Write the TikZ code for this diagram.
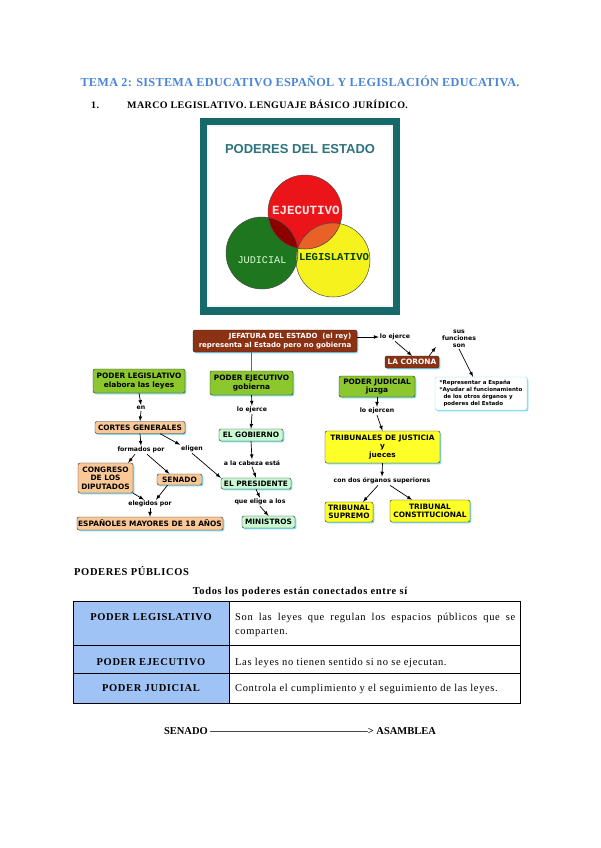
\documentclass[tikz,border=0pt]{standalone}
\usepackage{fontspec}
\setmainfont{Liberation Serif}
\newfontfamily\titlefont[LetterSpace=2.5]{Liberation Serif}
\newfontfamily\headfont[LetterSpace=4]{Liberation Serif}
\newfontfamily\bodyfont[LetterSpace=6]{Liberation Serif}
\newfontfamily\mapfont{DejaVu Sans}
\newfontfamily\logofont{Liberation Sans}
\newfontfamily\circfont{Liberation Mono}
\usepackage{tikz}
\usetikzlibrary{calc,shadows}
\definecolor{titleblue}{RGB}{74,134,214}
\definecolor{frameteal}{RGB}{22,105,105}
\definecolor{logoteal}{RGB}{45,115,125}
\definecolor{circred}{RGB}{235,20,25}
\definecolor{circgreen}{RGB}{30,118,30}
\definecolor{circyellow}{RGB}{245,242,30}
\definecolor{redgreen}{RGB}{140,0,0}
\definecolor{redyellow}{RGB}{232,98,40}
\definecolor{greenyellow}{RGB}{130,212,60}
\definecolor{allthree}{RGB}{70,95,120}
\definecolor{crownbrown}{RGB}{140,50,20}
\definecolor{powergreen}{RGB}{140,200,45}
\definecolor{peach}{RGB}{250,200,150}
\definecolor{mint}{RGB}{200,250,210}
\definecolor{courtyellow}{RGB}{255,255,40}
\definecolor{glow}{RGB}{130,220,240}
\definecolor{tableblue}{RGB}{160,195,245}

\begin{document}
\begin{tikzpicture}[x=1pt,y=-1pt,>= latex,
  boxtext/.style={font=\mapfont\bfseries\fontsize{7.4}{8.6}\selectfont},
  cmap/.style={boxtext,draw=black!85,rounded corners=2pt,inner sep=1pt,align=center,
    drop shadow={shadow xshift=1.3pt,shadow yshift=-1.3pt,fill=glow,opacity=1}},
  brownbox/.style={cmap,fill=crownbrown,text=white},
  greenbox/.style={cmap,fill=powergreen},
  peachbox/.style={cmap,fill=peach},
  mintbox/.style={cmap,fill=mint},
  yellowbox/.style={cmap,fill=courtyellow},
  whitebox/.style={cmap,draw=glow,fill=white,font=\mapfont\bfseries\fontsize{5.5}{7}\selectfont},
  link/.style={font=\mapfont\bfseries\fontsize{6.2}{7}\selectfont,inner sep=1pt,align=center},
  arr/.style={draw,line width=0.7pt,->},
  doc/.style={inner sep=0pt,anchor=base},
  body/.style={doc,font=\bodyfont\fontsize{10.5}{12}\selectfont},
  bodybold/.style={doc,font=\bodyfont\bfseries\fontsize{10.5}{12}\selectfont}]

\useasboundingbox[fill=white] (0,0) rectangle (600,848);

\node[doc,font=\titlefont\bfseries\fontsize{12.2}{14}\selectfont,text=titleblue] (titulo) at (300,87)
  {TEMA 2: SISTEMA EDUCATIVO ESPAÑOL Y LEGISLACIÓN EDUCATIVA.};
\node[doc,anchor=base west,font=\headfont\bfseries\fontsize{10}{12}\selectfont] (num) at (91,109) {1.};
\node[doc,anchor=base west,font=\headfont\bfseries\fontsize{10}{12}\selectfont] (marco) at (127,109)
  {MARCO LEGISLATIVO. LENGUAJE BÁSICO JURÍDICO.};

\fill[frameteal] (200,118) rectangle (400,315);
\fill[black!4] (207,125) rectangle (393,307);
\fill[white] (209,127) rectangle (391,305);
\node[font=\logofont\bfseries\fontsize{13}{15}\selectfont,text=logoteal] (logo) at (300,149)
  {PODERES DEL ESTADO};
\fill[circgreen] (262,253) circle[radius=36pt];
\fill[circyellow] (333,260) circle[radius=37pt];
\fill[circred] (305,212) circle[radius=37pt];
\begin{scope}
  \clip (305,212) circle[radius=37pt];
  \fill[redgreen] (262,253) circle[radius=36pt];
  \fill[redyellow] (333,260) circle[radius=37pt];
\end{scope}
\begin{scope}
  \clip (262,253) circle[radius=36pt];
  \fill[greenyellow] (333,260) circle[radius=37pt];
  \clip (333,260) circle[radius=37pt];
  \fill[allthree] (305,212) circle[radius=37pt];
\end{scope}
\draw[black!70,line width=0.5pt] (262,253) circle[radius=36pt] (333,260) circle[radius=37pt]
  (305,212) circle[radius=37pt];
\node[font=\circfont\bfseries\fontsize{12.5}{14}\selectfont,text=red!10] (ejec) at (306,210) {EJECUTIVO};
\node[font=\circfont\fontsize{10.2}{12}\selectfont,text=green!15!white] (judi) at (262,260) {JUDICIAL};
\node[font=\circfont\bfseries\fontsize{10.6}{12}\selectfont,text=green!25!black] (legi) at (334,257) {LEGISLATIVO};

\node[brownbox,minimum width=164pt,minimum height=22pt,align=right,
  font=\mapfont\bfseries\fontsize{7}{8.6}\selectfont] (jefatura) at (275,341)
  {JEFATURA DEL ESTADO\ \ (el rey)\\representa al Estado pero no gobierna};
\node[link] (ejerce) at (395,337) {lo ejerce};
\node[brownbox,minimum width=54pt,minimum height=12pt] (corona) at (412,362) {LA CORONA};
\node[link] (susfunc) at (459,339) {sus\\funciones\\son};
\node[whitebox,minimum width=92pt,minimum height=33pt,align=left] (funciones) at (481,393.5)
  {*Representar a España\\*Ayudar al funcionamiento\\\ \ de los otros órganos y\\\ \ poderes del Estado};

\node[greenbox,minimum width=92pt,minimum height=24pt] (plegis) at (139,381)
  {PODER LEGISLATIVO\\elabora las leyes};
\node[greenbox,minimum width=83pt,minimum height=24pt] (pejec) at (251.5,383)
  {PODER EJECUTIVO\\gobierna};
\node[greenbox,minimum width=76pt,minimum height=21pt] (pjud) at (377,386.5)
  {PODER JUDICIAL\\juzga};

\node[link] (en) at (141,408) {en};
\node[peachbox,minimum width=90pt,minimum height=12pt] (cortes) at (140,427.5) {CORTES GENERALES};
\node[link] (formados) at (141,450) {formados por};
\node[link] (eligen) at (192,449) {eligen};
\node[peachbox,minimum width=55pt,minimum height=30pt] (congreso) at (105.5,478)
  {CONGRESO\\DE LOS\\DIPUTADOS};
\node[peachbox,minimum width=45pt,minimum height=11pt] (senado) at (179.5,479.5) {SENADO};
\node[link] (elegidos) at (150,504) {elegidos por};
\node[peachbox,minimum width=146pt,minimum height=13pt] (espanoles) at (150,523.5)
  {ESPAÑOLES MAYORES DE 18 AÑOS};

\node[link] (ejerce2) at (252,410) {lo ejerce};
\node[mintbox,minimum width=64pt,minimum height=12pt] (gobierno) at (251,435) {EL GOBIERNO};
\node[link] (cabeza) at (252,463) {a la cabeza está};
\node[mintbox,minimum width=70pt,minimum height=11pt] (presidente) at (256,483.5) {EL PRESIDENTE};
\node[link] (elige) at (260,502) {que elige a los};
\node[mintbox,minimum width=53pt,minimum height=12pt] (ministros) at (268.5,522) {MINISTROS};

\node[link] (ejercen) at (377,411) {lo ejercen};
\node[yellowbox,minimum width=115pt,minimum height=32pt] (tribunales) at (382.5,447)
  {TRIBUNALES DE JUSTICIA\\y\\jueces};
\node[link] (organos) at (382,481) {con dos órganos superiores};
\node[yellowbox,minimum width=48pt,minimum height=20pt] (supremo) at (349,512)
  {TRIBUNAL\\SUPREMO};
\node[yellowbox,minimum width=80pt,minimum height=22pt] (constit) at (430,511)
  {TRIBUNAL\\CONSTITUCIONAL};

\path[arr] (jefatura.east |- ejerce.west) -- (ejerce.west);
\path[arr] (ejerce.south) -- (corona.north);
\path[arr] ($(corona.north east)+(-10,0)$) -- ($(susfunc.west)+(-5,8)$);
\path[arr] (susfunc.south) -- ([xshift=-8pt]funciones.north);
\path[draw,line width=0.6pt,black!60] (pejec.north |- jefatura.south) -- (pejec.north);

\path[arr] (plegis.south) -- (en.north);
\path[arr] (en.south) -- (cortes.north);
\path[arr] (cortes.south) -- (formados.north);
\path[arr] ([xshift=-6pt]formados.south) -- ([xshift=-5pt]congreso.north east);
\path[arr] ([xshift=6pt]formados.south) -- ([xshift=-10pt]senado.north);
\path[arr] ([xshift=-25pt]cortes.south east) -- (eligen.north west);
\path[arr] (eligen.south) -- (presidente.north west);
\path[arr] (congreso.south east) -- ([xshift=-6pt]elegidos.north);
\path[arr] ([xshift=-12pt]senado.south) -- ([xshift=6pt]elegidos.north);
\path[arr] (elegidos.south) -- (espanoles.north);

\path[arr] (pejec.south) -- (ejerce2.north);
\path[arr] (ejerce2.south) -- (gobierno.north);
\path[arr] (gobierno.south) -- (cabeza.north);
\path[arr] (cabeza.south) -- (presidente.north);
\path[arr] (presidente.south) -- (elige.north);
\path[arr] (elige.south) -- (ministros.north);

\path[arr] (pjud.south) -- (ejercen.north);
\path[arr] (ejercen.south) -- (tribunales.north);
\path[arr] (tribunales.south) -- (organos.north);
\path[arr] ([xshift=-4pt]organos.south) -- ([xshift=14pt]supremo.north);
\path[arr] ([xshift=8pt]organos.south) -- ([xshift=-18pt]constit.north);

\node[bodybold,anchor=base west] (publicos) at (74,575) {PODERES PÚBLICOS};
\node[bodybold] (conectados) at (300,594) {Todos los poderes están conectados entre sí};

\fill[tableblue] (73,601) rectangle (229,703);
\draw[line width=0.8pt] (73,601) rectangle (520,703);
\draw[line width=0.8pt] (229,601) -- (229,703);
\draw[line width=0.8pt] (73,645) -- (520,645);
\draw[line width=0.8pt] (73,673) -- (520,673);
\node[bodybold] (tlegis) at (151,620) {PODER LEGISLATIVO};
\node[bodybold] (tejec) at (151,665) {PODER EJECUTIVO};
\node[bodybold] (tjud) at (151,691) {PODER JUDICIAL};
\node[body,anchor=base west,text width=280pt,align=justify,
  font=\bodyfont\fontsize{10.5}{14.5}\selectfont] (dlegis) at (235,620)
  {Son las leyes que regulan los espacios públicos que se \mbox{comparten.}};
\node[body,anchor=base west] (dejec) at (235,665)
  {Las leyes no tienen sentido si no se ejecutan.};
\node[body,anchor=base west] (djud) at (235,691)
  {Controla el cumplimiento y el seguimiento de las leyes.};

\node[doc,font=\bfseries\fontsize{10.5}{12}\selectfont] (senadoasamblea) at (300,734)
  {SENADO ———————————————> ASAMBLEA};
\end{tikzpicture}
\end{document}
